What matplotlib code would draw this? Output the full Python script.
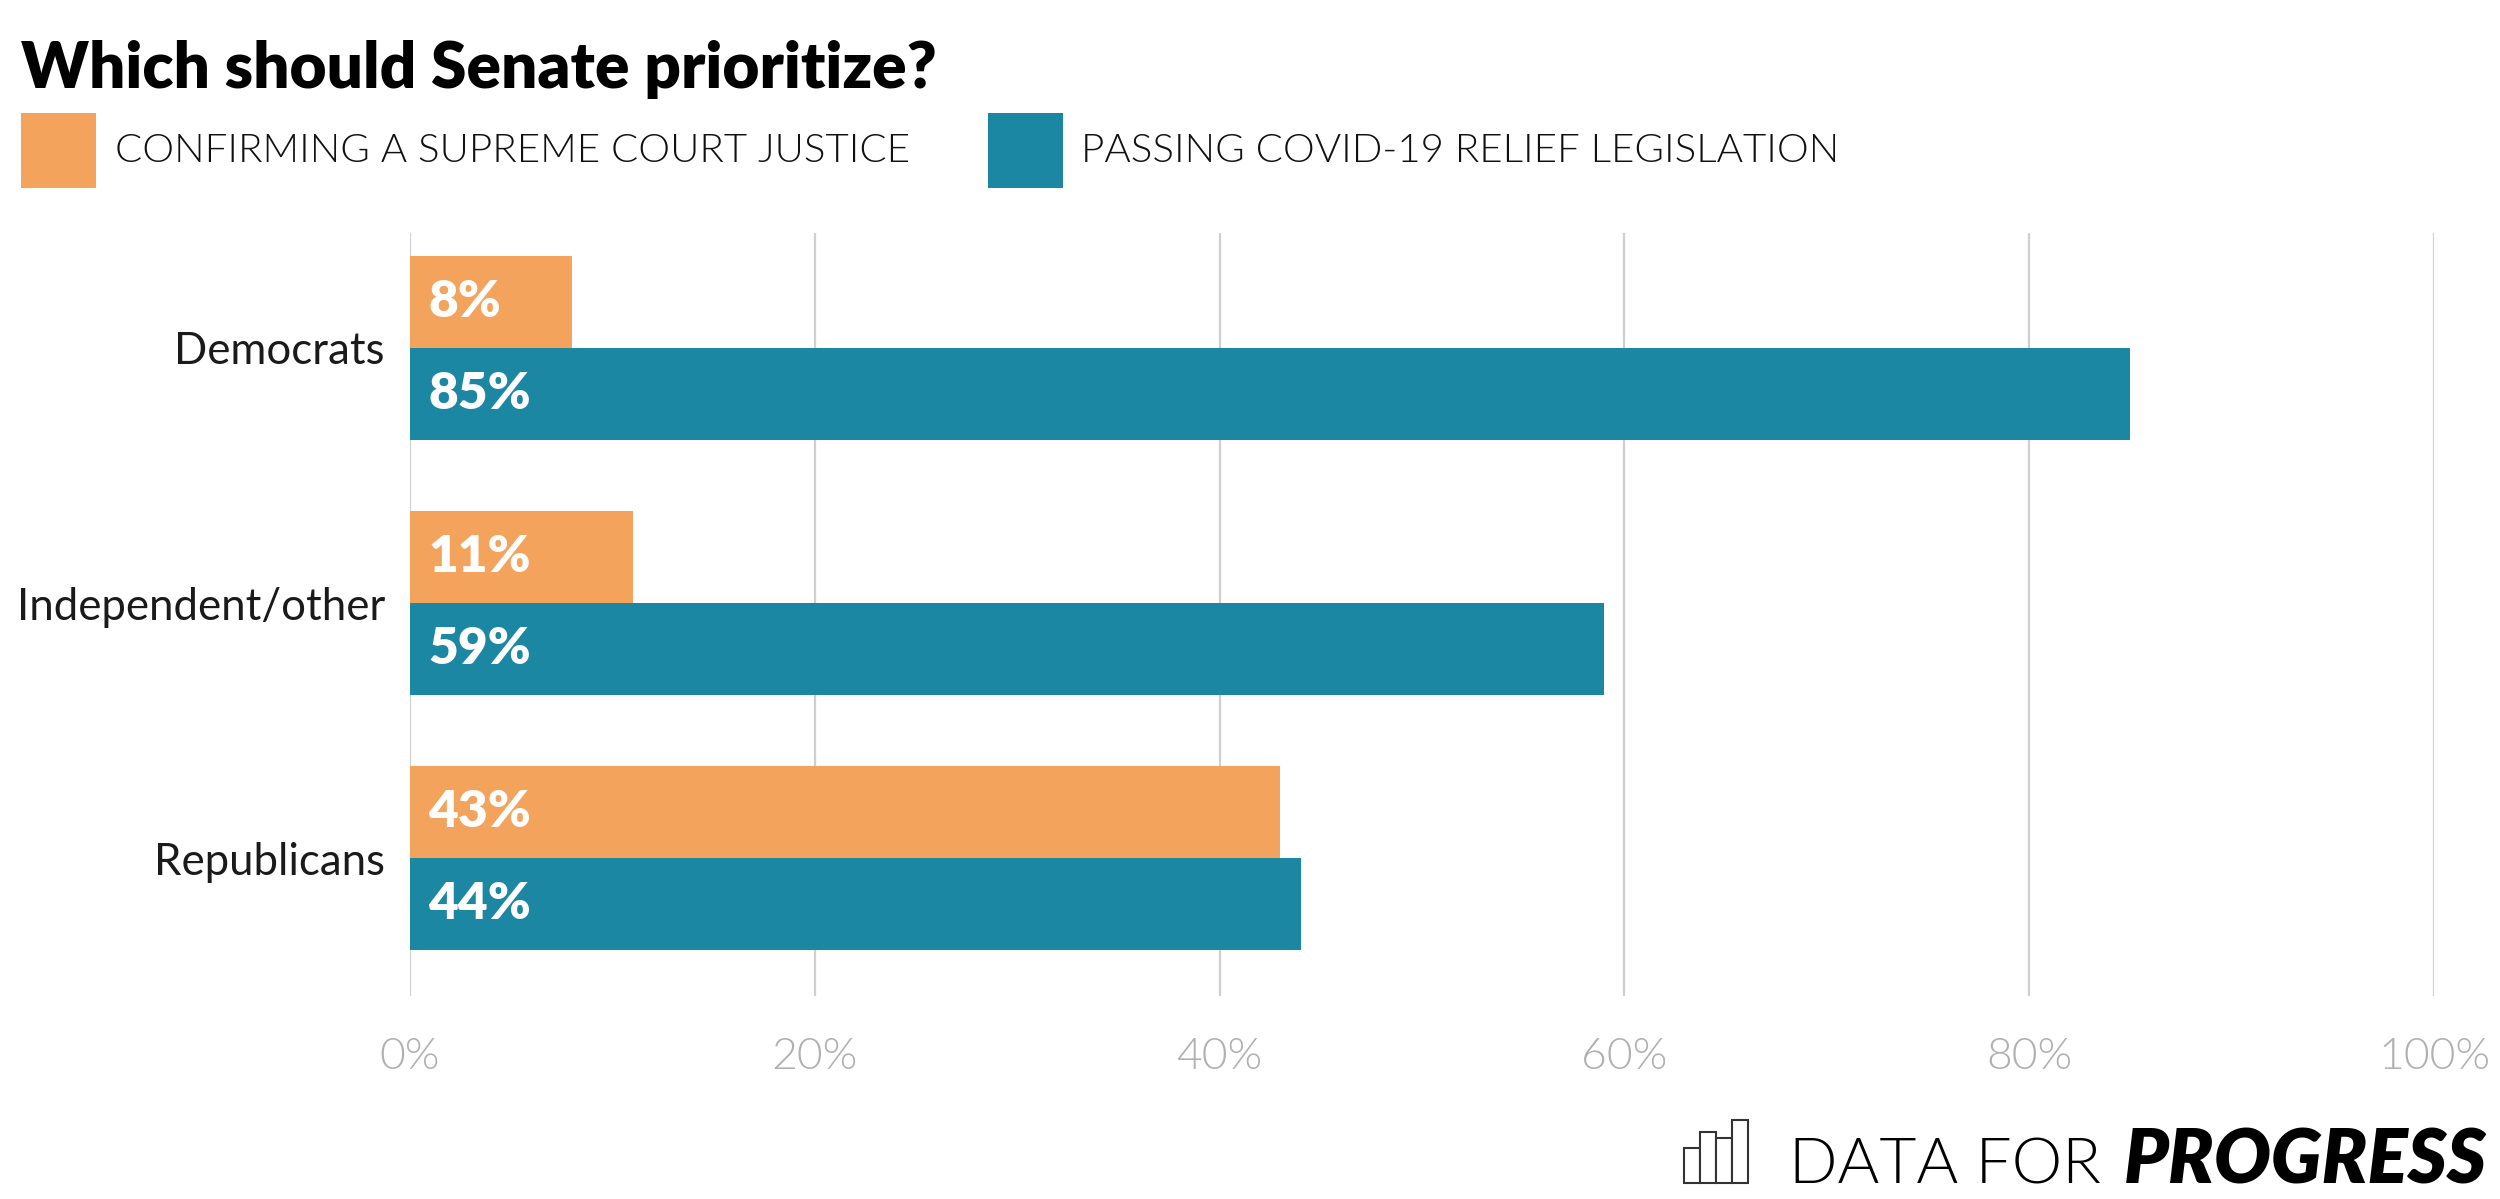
import numpy as np
import matplotlib.pyplot as plt
from matplotlib.patches import Rectangle

# Survey data (percent)
groups = ['Democrats', 'Independent/other', 'Republicans']
scotus = [8, 11, 43]
covid = [85, 59, 44]
series_names = ['CONFIRMING A SUPREME COURT JUSTICE', 'PASSING COVID-19 RELIEF LEGISLATION']
ticks = [0, 20, 40, 60, 80, 100]

ORANGE = '#F4A35D'
TEAL = '#1B87A3'


def main():
    plt.rcParams['font.family'] = ['Lato', 'DejaVu Sans']
    fig = plt.figure(figsize=(25, 11.99), dpi=100)
    ax = fig.add_axes([0.164, 0.1693, 0.8096, 0.6364])

    y = np.arange(len(groups))
    h = 0.36
    ax.barh(y - h / 2, scotus, height=h, color=ORANGE, zorder=3)
    ax.barh(y + h / 2, covid, height=h, color=TEAL, zorder=3)

    # value labels inside the bars
    for i in range(len(groups)):
        ax.text(0.9, y[i] - h / 2, f'{scotus[i]}%', color='white', fontsize=37,
                fontweight='heavy', va='center', ha='left', zorder=4)
        ax.text(0.9, y[i] + h / 2, f'{covid[i]}%', color='white', fontsize=37,
                fontweight='heavy', va='center', ha='left', zorder=4)

    ax.set_xlim(0, 100)
    ax.set_ylim(2.54, -0.45)
    ax.set_xticks(ticks)
    ax.set_xticklabels([f'{t}%' for t in ticks])
    ax.set_yticks(y)
    ax.set_yticklabels(groups)
    ax.tick_params(axis='x', length=0, pad=30, labelsize=32, labelcolor='#b0b0b0')
    ax.tick_params(axis='y', length=0, pad=18, labelsize=31.5, labelcolor='#1a1a1a')
    for lbl in ax.get_xticklabels():
        lbl.set_fontweight(300)
    ax.grid(axis='x', color='#cfcfcf', linewidth=1.6, zorder=0)
    for s in ax.spines.values():
        s.set_visible(False)

    # title
    fig.text(0.0084, 1 - 88 / 1199, 'Which should Senate prioritize?', fontsize=46,
             fontweight='heavy', va='baseline', ha='left', color='black')

    # legend
    sq_w = 75 / 2500
    sq_h = 75 / 1199
    for x0, tx, col, name in [(21, 115, ORANGE, series_names[0]), (988, 1081, TEAL, series_names[1])]:
        fig.add_artist(Rectangle((x0 / 2500, 1 - 188 / 1199), sq_w, sq_h,
                                 transform=fig.transFigure, color=col, lw=0))
        fig.text(tx / 2500, 1 - 151 / 1199, name, fontsize=29, fontweight=300,
                 va='center', ha='left', color='#111111')

    # logo
    base = 1 - 1183 / 1199
    bar_w = 16 / 2500
    for k, bh in enumerate([35, 51, 45, 63]):
        fig.add_artist(Rectangle((1684 / 2500 + k * bar_w, base), bar_w, bh / 1199,
                                 transform=fig.transFigure, facecolor='white',
                                 edgecolor='#333333', lw=1.5))
    fig.text(1789 / 2500, base, 'DATA FOR', fontsize=46, fontweight=300,
             va='baseline', ha='left', color='black')
    fig.text(2487 / 2500, base, 'PROGRESS', fontsize=54, fontweight='heavy', style='italic',
             va='baseline', ha='right', color='black')

    fig.savefig('out.png', dpi=100, facecolor='white')


if __name__ == "__main__":
    main()
